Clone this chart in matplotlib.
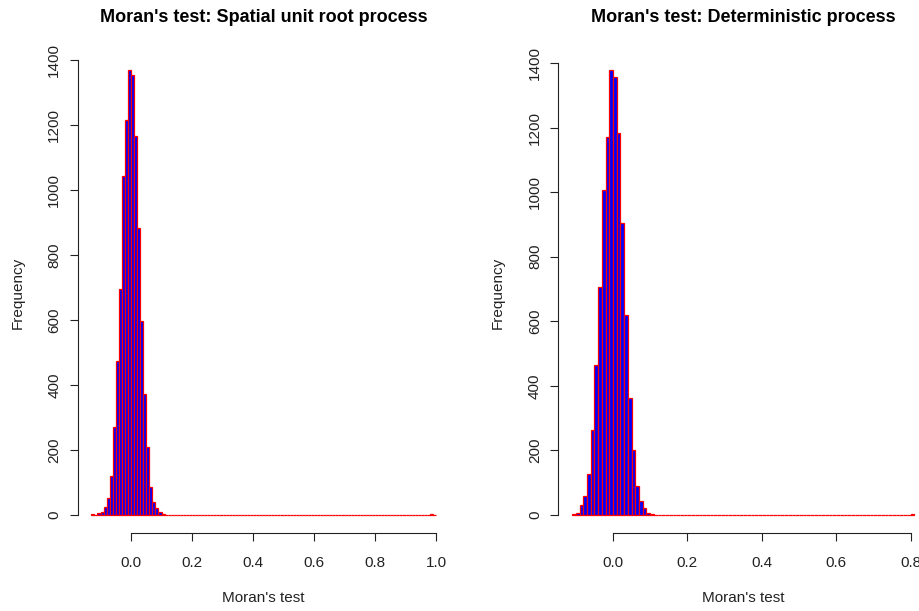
import numpy as np
import matplotlib
matplotlib.use("Agg")
import matplotlib.pyplot as plt

plt.rcParams['font.family'] = ['Liberation Sans', 'DejaVu Sans']

# bin width of both histograms
bw = 0.01

# left panel: spatial unit root process (counts per 0.01 bin starting at -0.13)
unit_start = -0.13
unit_counts = [2, 0, 5, 9, 24, 51, 121, 270, 475, 695, 1045, 1216, 1369,
               1355, 1167, 883, 596, 373, 209, 87, 40, 21, 9, 4, 1]
unit_end = 1.00
unit_outlier_bin = 0.98
unit_outlier_count = 3

# right panel: deterministic process (counts per 0.01 bin starting at -0.11)
det_start = -0.11
det_counts = [3, 6, 30, 59, 128, 263, 464, 705, 1007, 1170, 1377, 1357,
              1182, 905, 620, 361, 201, 91, 43, 21, 7, 3]
det_end = 0.81
det_outlier_bin = 0.80
det_outlier_count = 3

titles = ["Moran's test: Spatial unit root process",
          "Moran's test: Deterministic process"]
xticks = [[0.0, 0.2, 0.4, 0.6, 0.8, 1.0], [0.0, 0.2, 0.4, 0.6, 0.8]]
yticks = [0, 200, 400, 600, 800, 1000, 1200, 1400]


def full_counts(start, end, counts, ob, oc):
    edges = np.round(np.arange(start, end + bw / 2, bw), 2)
    c = np.zeros(len(edges) - 1)
    c[:len(counts)] = counts
    i = int(round((ob - start) / bw))
    c[i] = oc
    return edges, c


W, H = 919, 611
fig = plt.figure(figsize=(W / 100, H / 100), dpi=100)

# plot regions in pixels (left, right, top, bottom)
regions = [(77.6, 449.8, 52.6, 532.8), (558.4, 928.0, 52.6, 532.8)]
data = [full_counts(unit_start, unit_end, unit_counts, unit_outlier_bin, unit_outlier_count),
        full_counts(det_start, det_end, det_counts, det_outlier_bin, det_outlier_count)]

for k in range(2):
    l, r, t, b = regions[k]
    ax = fig.add_axes([l / W, (H - b) / H, (r - l) / W, (b - t) / H])
    edges, c = data[k]
    ax.bar(edges[:-1], c, width=bw, align='edge', color='blue',
           edgecolor='red', linewidth=0.9)
    span = edges[-1] - edges[0]
    ax.set_xlim(edges[0] - 0.04 * span, edges[-1] + 0.04 * span)
    ax.set_ylim(-0.04 * c.max(), 1.04 * c.max())

    for s in ['top', 'right']:
        ax.spines[s].set_visible(False)
    ax.spines['left'].set_bounds(0, 1400)
    ax.spines['bottom'].set_bounds(xticks[k][0], xticks[k][-1])
    for s in ['left', 'bottom']:
        ax.spines[s].set_linewidth(0.8)
        ax.spines[s].set_color('#222222')

    ax.set_xticks(xticks[k])
    ax.set_xticklabels(['%.1f' % v for v in xticks[k]])
    ax.set_yticks(yticks)
    ax.set_yticklabels([str(v) for v in yticks], rotation=90, va='center')
    ax.tick_params(length=5.8, width=0.8, color='#222222', labelsize=11,
                   labelcolor='#222222')
    ax.tick_params(axis='x', pad=11)
    ax.tick_params(axis='y', pad=6)

    ax.set_xlabel("Moran's test", fontsize=11, color='#222222')
    ax.xaxis.set_label_coords(0.5, (b - 597.5) / (b - t))
    ax.xaxis.label.set_va('center')
    ax.set_ylabel("Frequency", fontsize=11, color='#222222')
    ax.yaxis.set_label_coords((18 - l) / (r - l) if k == 0 else (498 - l) / (r - l), 0.5)
    ax.yaxis.label.set_va('center')

    ax.set_title(titles[k], fontsize=13, fontweight='bold',
                 y=(b - 17) / (b - t), va='center', pad=0)

fig.savefig("out.png", dpi=100)
